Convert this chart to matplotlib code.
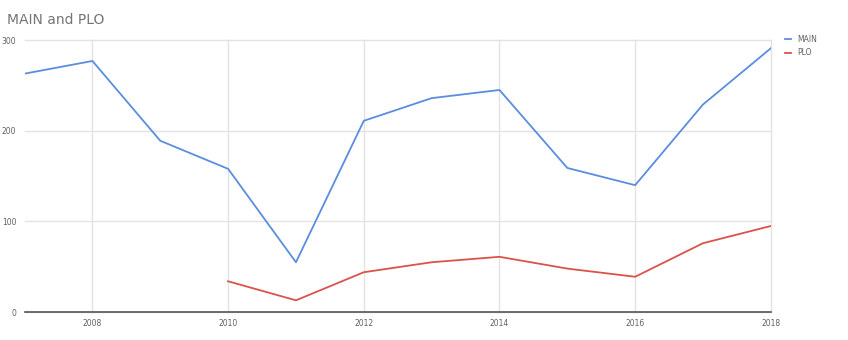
import numpy as np
import matplotlib.pyplot as plt

years = [2007, 2008, 2009, 2010, 2011, 2012, 2013, 2014, 2015, 2016, 2017, 2018]
main = [263, 277, 189, 158, 55, 211, 236, 245, 159, 140, 229, 291]

plo_years = [2010, 2011, 2012, 2013, 2014, 2015, 2016, 2017, 2018]
plo = [34, 13, 44, 55, 61, 48, 39, 76, 95]

xticks = [2008, 2010, 2012, 2014, 2016, 2018]
yticks = [0, 100, 200, 300]

fig = plt.figure(figsize=(8.48, 3.4), dpi=100)
ax = fig.add_axes([0.029, 0.082, 0.880, 0.800])

ax.plot(years, main, color='#5b8ddf', lw=1.3, label='MAIN')
ax.plot(plo_years, plo, color='#d9534a', lw=1.3, label='PLO')

ax.set_xlim(2007, 2018)
ax.set_ylim(0, 300)
ax.set_xticks(xticks)
ax.set_yticks(yticks)
ax.grid(True, color='#e3e3e3', lw=1, clip_on=False)
for gl in ax.get_xgridlines() + ax.get_ygridlines():
    gl.set_clip_on(False)
ax.set_axisbelow(True)
ax.tick_params(length=0, labelsize=5.5, labelcolor='#606060')
ax.tick_params(axis='x', pad=5)
ax.tick_params(axis='y', pad=6)
for s in ['top', 'right', 'left']:
    ax.spines[s].set_visible(False)
ax.spines['bottom'].set_color('#555555')
ax.spines['bottom'].set_linewidth(1.2)

fig.text(0.008, 0.93, 'MAIN and PLO', fontsize=10, color='#757575')

leg = ax.legend(loc='upper left', bbox_to_anchor=(1.01, 1.045), frameon=False,
                fontsize=5.5, handlelength=0.8, handletextpad=0.8, labelspacing=0.6)
for t in leg.get_texts():
    t.set_color('#606060')

fig.savefig('out.png', dpi=100)
